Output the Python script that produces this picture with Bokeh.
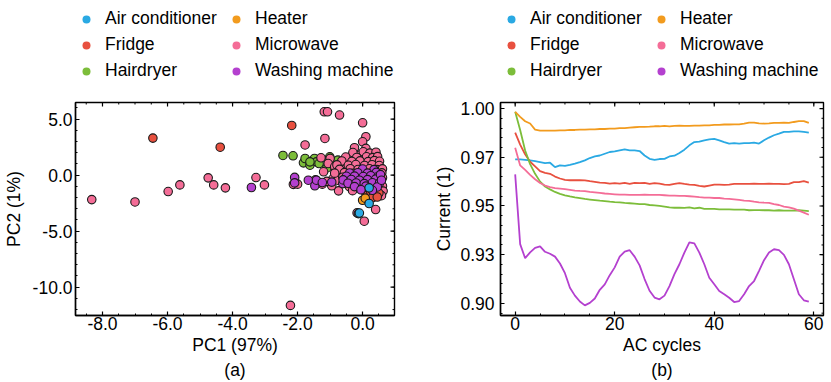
from bokeh.plotting import figure
from bokeh.models import (FixedTicker, Legend, LegendItem, Title, Range1d)
from bokeh.layouts import row, column
from bokeh.embed import file_html
from bokeh.resources import INLINE

# ---------------- data ----------------
classes = ["Air conditioner", "Fridge", "Hairdryer", "Heater", "Microwave", "Washing machine"]
colors = ["#2aa9e3", "#e8503f", "#7cbd3a", "#f29b1e", "#f46d97", "#b440cf"]

# (a) PCA scatter: (PC1, PC2) per class
air_pc = [(-0.13, -3.43), (-0.10, -3.38), (0.20, -2.53), (0.20, -1.13)]
fridge_pc = [(-6.45, 3.31), (-4.38, 2.50), (-2.18, 4.44), (0.15, -1.79), (0.25, -1.49),
             (0.40, -1.19), (0.50, -1.60), (0.30, -2.02), (0.45, -1.95)]
hairdryer_pc = [(-2.45, 1.76), (-2.14, 1.73), (-1.82, 1.10), (-1.77, 1.49), (-1.62, 0.89),
                (-1.48, 1.49), (-1.42, 1.19), (-1.34, 1.04), (-1.62, 1.19), (-1.06, 1.34),
                (-1.02, 1.10), (-0.91, 1.04), (-0.76, 1.34), (-1.01, 1.64), (-0.66, 0.89),
                (-0.85, 0.60), (-1.10, 0.65)]
heater_pc = [(0.00, -2.24), (0.08, -2.05)]
microwave_pc = [(-8.33, -2.18), (-7.00, -2.39), (-5.98, -1.46), (-5.62, -0.87), (-4.75, -0.24),
                (-4.58, -0.87), (-4.22, -1.13), (-3.28, -0.21), (-3.02, -0.87), (-2.22, -11.63),
                (-2.13, -0.82), (-2.00, -0.80), (-1.77, 2.70), (-1.45, -0.42), (-1.24, -0.80),
                (-1.18, 5.66), (-1.08, 5.66), (-1.16, 3.28), (-0.71, 5.37), (-1.00, 1.50),
                (-1.28, 1.55), (0.00, 4.68), (0.10, 3.43), (0.00, 2.98), (0.10, 2.39),
                (-0.25, 2.45), (-0.10, 1.79), (0.02, 2.09), (-0.36, 1.49), (-0.17, -3.37),
                (0.05, -4.11), (0.40, -3.07), (-1.06, 1.04), (-0.86, 0.75), (-0.66, 1.10),
                (-0.51, 0.60), (-0.91, -0.30), (-0.76, -0.45), (-0.74, -1.40), (-0.95, -0.95),
                (-1.10, -0.55), (-1.20, 0.30),
                (-0.30, 2.02), (0.22, 1.97), (0.41, 2.05),
                (-0.52, 1.62), (-0.18, 1.58), (0.12, 1.64), (0.31, 1.57), (0.46, 1.66),
                (-0.64, 1.27), (-0.33, 1.22), (-0.08, 1.28), (0.17, 1.21), (0.36, 1.30), (0.52, 1.24),
                (-0.79, 0.92), (-0.44, 0.88), (-0.21, 0.95), (0.06, 0.87), (0.29, 0.93), (0.51, 0.86),
                (-0.71, 0.52), (-0.38, 0.58), (-0.14, 0.51), (0.21, 0.57), (0.44, 0.50), (0.61, 0.56),
                (-0.86, 0.18), (-0.56, 0.23), (-0.29, 0.16), (0.01, 0.22), (0.31, 0.17), (0.59, 0.21),
                (-0.61, -0.18), (-0.36, -0.23), (0.11, -0.19), (0.61, -0.22),
                (-0.49, -0.58), (-0.21, -0.63), (0.21, -0.57), (0.56, -0.62),
                (-0.41, -1.02), (-0.11, -0.97), (0.36, -1.03), (0.61, -0.98),
                (-0.31, -1.38), (0.06, -1.43), (0.46, -1.37), (0.63, -1.42),
                (0.36, -1.78), (0.58, -1.83)]
washing_pc = [(-3.42, -1.10), (-2.09, -0.20), (-2.09, -0.69), (-1.67, -0.45), (-1.47, -0.95),
              (-1.42, -0.45), (-1.24, -0.66), (-0.61, -0.75), (-0.95, -0.62),
              (0.00, 0.55), (0.35, 0.50), (-0.40, 0.20), (-0.15, 0.22), (0.15, 0.18), (0.42, 0.25),
              (-0.50, -0.10), (-0.25, -0.08), (0.02, -0.12), (0.25, -0.05), (0.48, -0.10),
              (-0.60, -0.42), (-0.35, -0.38), (-0.10, -0.45), (0.15, -0.40), (0.40, -0.35),
              (-0.45, -0.72), (-0.20, -0.70), (0.05, -0.75), (0.30, -0.68), (0.52, -0.70),
              (-0.25, -1.02), (0.10, -0.98), (0.45, -1.05), (-0.05, -1.30), (0.30, -1.35),
              (0.55, 0.05), (0.58, -0.45)]
scatter_data = {"Air conditioner": air_pc, "Fridge": fridge_pc, "Hairdryer": hairdryer_pc,
                "Heater": heater_pc, "Microwave": microwave_pc, "Washing machine": washing_pc}

# (b) mean current per AC cycle
air_current = [0.9739, 0.9739, 0.9737, 0.9734, 0.9730, 0.9725, 0.9720, 0.9722, 0.9699, 0.9708,
               0.9706, 0.9711, 0.9717, 0.9725, 0.9734, 0.9746, 0.9754, 0.9759, 0.9768, 0.9777,
               0.9780, 0.9785, 0.9790, 0.9785, 0.9785, 0.9782, 0.9759, 0.9742, 0.9737, 0.9741,
               0.9742, 0.9754, 0.9758, 0.9772, 0.9789, 0.9811, 0.9828, 0.9830, 0.9837, 0.9842,
               0.9844, 0.9837, 0.9828, 0.9820, 0.9823, 0.9820, 0.9823, 0.9823, 0.9825, 0.9820,
               0.9837, 0.9851, 0.9863, 0.9871, 0.9880, 0.9880, 0.9883, 0.9883, 0.9880, 0.9876]
fridge_current = [0.9876, 0.9815, 0.9765, 0.9727, 0.9703, 0.9679, 0.9670, 0.9665, 0.9651, 0.9641,
                  0.9634, 0.9632, 0.9632, 0.9632, 0.9631, 0.9627, 0.9624, 0.9620, 0.9619, 0.9615,
                  0.9617, 0.9615, 0.9619, 0.9613, 0.9619, 0.9617, 0.9619, 0.9613, 0.9617, 0.9615,
                  0.9610, 0.9608, 0.9613, 0.9617, 0.9613, 0.9610, 0.9608, 0.9603, 0.9600, 0.9605,
                  0.9610, 0.9610, 0.9608, 0.9610, 0.9613, 0.9613, 0.9613, 0.9613, 0.9615, 0.9613,
                  0.9613, 0.9615, 0.9613, 0.9613, 0.9612, 0.9613, 0.9622, 0.9622, 0.9627, 0.9620]
hairdryer_current = [0.9983, 0.9890, 0.9785, 0.9715, 0.9665, 0.9625, 0.9600, 0.9585, 0.9572, 0.9562,
                     0.9555, 0.9549, 0.9544, 0.9540, 0.9536, 0.9533, 0.9530, 0.9527, 0.9525, 0.9522,
                     0.9520, 0.9519, 0.9516, 0.9514, 0.9512, 0.9510, 0.9509, 0.9505, 0.9503, 0.9500,
                     0.9497, 0.9493, 0.9491, 0.9491, 0.9490, 0.9493, 0.9488, 0.9491, 0.9485, 0.9485,
                     0.9485, 0.9483, 0.9483, 0.9483, 0.9481, 0.9481, 0.9481, 0.9478, 0.9479, 0.9479,
                     0.9478, 0.9478, 0.9476, 0.9478, 0.9476, 0.9476, 0.9476, 0.9478, 0.9476, 0.9474]
heater_current = [0.9983, 0.9957, 0.9935, 0.9923, 0.9892, 0.9887, 0.9887, 0.9887, 0.9887, 0.9888,
                  0.9888, 0.9890, 0.9890, 0.9892, 0.9892, 0.9893, 0.9893, 0.9895, 0.9895, 0.9897,
                  0.9897, 0.9899, 0.9900, 0.9902, 0.9904, 0.9906, 0.9906, 0.9907, 0.9909, 0.9909,
                  0.9911, 0.9909, 0.9911, 0.9912, 0.9911, 0.9911, 0.9912, 0.9912, 0.9914, 0.9914,
                  0.9916, 0.9916, 0.9918, 0.9918, 0.9919, 0.9919, 0.9923, 0.9928, 0.9928, 0.9924,
                  0.9923, 0.9924, 0.9926, 0.9926, 0.9928, 0.9926, 0.9931, 0.9935, 0.9935, 0.9926]
microwave_current = [0.9799, 0.9708, 0.9685, 0.9660, 0.9637, 0.9618, 0.9605, 0.9597, 0.9592, 0.9589,
                     0.9586, 0.9583, 0.9579, 0.9577, 0.9576, 0.9572, 0.9570, 0.9567, 0.9564, 0.9562,
                     0.9560, 0.9558, 0.9558, 0.9557, 0.9557, 0.9557, 0.9558, 0.9557, 0.9557, 0.9557,
                     0.9555, 0.9553, 0.9553, 0.9552, 0.9552, 0.9550, 0.9548, 0.9545, 0.9543, 0.9543,
                     0.9541, 0.9541, 0.9538, 0.9536, 0.9534, 0.9531, 0.9528, 0.9526, 0.9522, 0.9519,
                     0.9517, 0.9516, 0.9509, 0.9505, 0.9497, 0.9493, 0.9486, 0.9476, 0.9466, 0.9455]
washing_current = [0.9662, 0.9304, 0.9232, 0.9262, 0.9285, 0.9293, 0.9265, 0.9255, 0.9240, 0.9205,
                   0.9155, 0.9080, 0.9040, 0.9010, 0.8990, 0.9003, 0.9025, 0.9070, 0.9098, 0.9145,
                   0.9185, 0.9240, 0.9266, 0.9273, 0.9240, 0.9195, 0.9125, 0.9065, 0.9030, 0.9021,
                   0.9040, 0.9089, 0.9150, 0.9201, 0.9261, 0.9313, 0.9308, 0.9261, 0.9201, 0.9132,
                   0.9098, 0.9064, 0.9047, 0.9029, 0.9007, 0.9012, 0.9047, 0.9089, 0.9115, 0.9167,
                   0.9222, 0.9261, 0.9278, 0.9273, 0.9249, 0.9201, 0.9124, 0.9047, 0.9016, 0.9009]
line_data = {"Air conditioner": air_current, "Fridge": fridge_current, "Hairdryer": hairdryer_current,
             "Heater": heater_current, "Microwave": microwave_current, "Washing machine": washing_current}

pca_x_ticks = [-8, -6, -4, -2, 0]
pca_x_labels = ["-8.0", "-6.0", "-4.0", "-2.0", "0.0"]
pca_y_ticks = [-10, -5, 0, 5]
pca_y_labels = ["-10.0", "-5.0", "0.0", "5.0"]
cyc_x_ticks = [0, 20, 40, 60]
cyc_x_labels = ["0", "20", "40", "60"]
cur_y_ticks = [0.9, 0.925, 0.95, 0.975, 1.0]
cur_y_labels = ["0.90", "0.93", "0.95", "0.97", "1.00"]

# ---------------- style ----------------
FONT = "Liberation Sans"
FS = "17.5px"
AXW = 1.4
LEG_H = 82
TOP_B = 20
FRAME_H = 213
BOT_B = 65
PLOT_H = TOP_B + FRAME_H + BOT_B
MAJ, MIN = 4, 2


def style_axis(ax, ticks, labels, standoff):
    ax.axis_line_color = "black"
    ax.axis_line_width = AXW
    ax.major_tick_in = MAJ
    ax.major_tick_out = 0
    ax.minor_tick_in = MIN
    ax.minor_tick_out = 0
    ax.major_tick_line_color = "black"
    ax.minor_tick_line_color = "black"
    ax.major_tick_line_width = 1.2
    ax.minor_tick_line_width = 1.0
    ax.major_label_text_font = FONT
    ax.major_label_text_font_size = FS
    ax.major_label_text_color = "black"
    ax.major_label_standoff = standoff
    ax.major_label_overrides = dict(zip(ticks, labels))
    ax.axis_label_text_font = FONT
    ax.axis_label_text_font_size = FS
    ax.axis_label_text_font_style = "normal"
    ax.axis_label_text_color = "black"


def make_legend_fig(width, left, right):
    lf = figure(width=width, height=LEG_H, x_range=Range1d(0, 1), y_range=Range1d(0, 1),
                x_axis_type=None, y_axis_type=None, output_backend="svg",
                toolbar_location=None, min_border_left=left, min_border_right=right,
                min_border_top=8, min_border_bottom=0)
    lf.grid.visible = False
    lf.outline_line_color = None
    lf.background_fill_color = "white"
    lf.border_fill_color = "white"
    items = []
    for name, col in zip(classes, colors):
        r = lf.scatter(x=[float("nan")], y=[float("nan")], size=7, fill_color=col, line_color=None)
        items.append(LegendItem(label=name, renderers=[r]))
    leg = Legend(items=items, orientation="vertical", nrows=3, location="top_left",
                 label_text_font=FONT, label_text_font_size=FS, label_text_color="black",
                 label_standoff=8, glyph_width=22, glyph_height=20, label_height=20,
                 label_width=115, spacing=5, padding=0, margin=0,
                 border_line_color=None, background_fill_alpha=0)
    lf.add_layout(leg)
    return lf


def make_fig(width, left, right, xr, yr, xt, xminor, xlab, yt, yminor, ylab,
             xtitle, ytitle, sub, ystand, ylabstand):
    p = figure(width=width, height=PLOT_H, x_range=Range1d(*xr), y_range=Range1d(*yr),
               output_backend="svg", toolbar_location=None,
               min_border_left=left, min_border_right=right,
               min_border_top=TOP_B, min_border_bottom=BOT_B)
    p.grid.visible = False
    p.outline_line_color = "black"
    p.outline_line_width = AXW
    p.background_fill_color = "white"
    p.border_fill_color = "white"
    p.xaxis.ticker = FixedTicker(ticks=xt, minor_ticks=xminor)
    p.yaxis.ticker = FixedTicker(ticks=yt, minor_ticks=yminor)
    p.xaxis.axis_label = xtitle
    p.yaxis.axis_label = ytitle
    for ax in p.xaxis:
        style_axis(ax, xt, xlab, 1)
        ax.axis_label_standoff = 2
    for ax in p.yaxis:
        style_axis(ax, yt, ylab, ystand)
        ax.axis_label_standoff = ylabstand
    t = Title(text=sub, align="center", text_font=FONT, text_font_size=FS,
              text_font_style="normal", text_color="black", standoff=0, offset=0)
    p.add_layout(t, "below")

    # mirrored inward ticks on the top and right edges of the frame
    fw = width - left - right
    dx = (xr[1] - xr[0]) / fw
    dy = (yr[1] - yr[0]) / FRAME_H
    for ticks, ln, lw in ((xt, MAJ, 1.2), (xminor, MIN, 1.0)):
        p.segment(x0=ticks, y0=[yr[1]] * len(ticks), x1=ticks, y1=[yr[1] - ln * dy] * len(ticks),
                  line_color="black", line_width=lw)
    for ticks, ln, lw in ((yt, MAJ, 1.2), (yminor, MIN, 1.0)):
        p.segment(x0=[xr[1]] * len(ticks), y0=ticks, x1=[xr[1] - ln * dx] * len(ticks), y1=ticks,
                  line_color="black", line_width=lw)
    return p


# ---------------- (a) ----------------
pa = make_fig(414, 71, 20, (-8.83, 0.98), (-12.53, 6.49),
              pca_x_ticks, [-8.5 + 0.5 * i for i in range(20)], pca_x_labels,
              pca_y_ticks, [-12 + i for i in range(19)], pca_y_labels,
              "PC1 (97%)", "PC2 (1%)", "(a)", 3, 6)
draw_order = ["Hairdryer", "Microwave", "Fridge", "Heater", "Washing machine", "Air conditioner"]
for name in draw_order:
    pts = scatter_data[name]
    col = colors[classes.index(name)]
    pa.scatter(x=[q[0] for q in pts], y=[q[1] for q in pts], size=8.5,
               fill_color=col, line_color="#1a1a1a", line_width=1.1)
la = make_legend_fig(414, 71, 20)

# ---------------- (b) ----------------
pb = make_fig(417, 86, 8, (-2.95, 61.95), (0.8938, 1.0031),
              cyc_x_ticks, [5 * i for i in range(13)], cyc_x_labels,
              cur_y_ticks, [0.895 + 0.005 * i for i in range(22)], cur_y_labels,
              "AC cycles", "Current (1)", "(b)", 6, 3)
for name, col in zip(classes, colors):
    vals = line_data[name]
    pb.line(x=list(range(len(vals))), y=vals, line_color=col, line_width=1.8)
lb = make_legend_fig(417, 86, 8)

layout = row(column(la, pa), column(lb, pb))
open("out.html", "w").write(file_html(layout, INLINE))
